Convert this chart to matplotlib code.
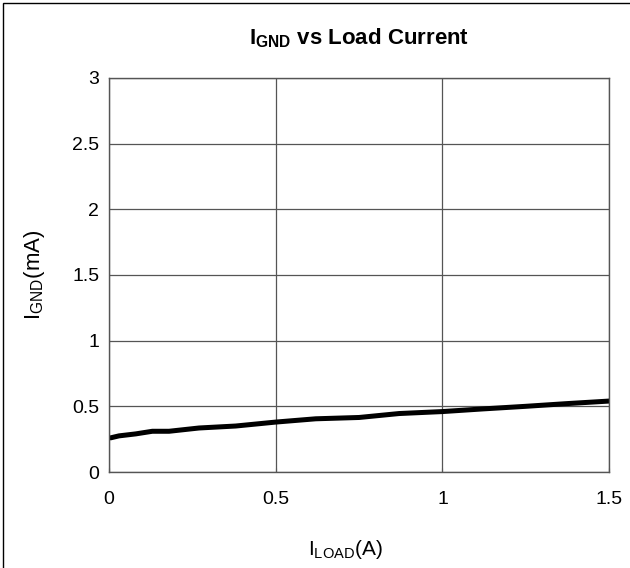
import numpy as np
import matplotlib
matplotlib.use("Agg")
import matplotlib.pyplot as plt
from matplotlib.patches import Rectangle

plt.rcParams['font.family'] = ['Liberation Sans', 'DejaVu Sans']
plt.rcParams['mathtext.fontset'] = 'custom'
plt.rcParams['mathtext.rm'] = 'Liberation Sans'
plt.rcParams['mathtext.it'] = 'Liberation Sans'
plt.rcParams['mathtext.bf'] = 'Liberation Sans:bold'

# load current (A) vs ground current (mA)
i_load = [0.005, 0.03, 0.08, 0.13, 0.18, 0.27, 0.38, 0.5, 0.62, 0.75,
          0.87, 1.0, 1.12, 1.25, 1.37, 1.5]
i_gnd = [0.26, 0.275, 0.29, 0.31, 0.31, 0.335, 0.35, 0.38, 0.405, 0.415,
         0.445, 0.46, 0.48, 0.5, 0.52, 0.54]

xticks = [0, 0.5, 1, 1.5]
xtick_labels = ["0", "0.5", "1", "1.5"]
yticks = [0, 0.5, 1, 1.5, 2, 2.5, 3]
ytick_labels = ["0", "0.5", "1", "1.5", "2", "2.5", "3"]

fig = plt.figure(figsize=(6.3, 5.68), dpi=100)
ax = fig.add_axes([0.173, 0.169, 0.794, 0.694])

ax.plot(i_load, i_gnd, color="black", lw=3.6, solid_capstyle="round")

ax.set_xlim(0, 1.5)
ax.set_ylim(0, 3)
ax.set_xticks(xticks)
ax.set_xticklabels(xtick_labels)
ax.set_yticks(yticks)
ax.set_yticklabels(ytick_labels)
ax.tick_params(labelsize=14, direction="in", length=3, color="#555555")
ax.tick_params(axis="x", pad=14)
ax.tick_params(axis="y", pad=7, length=0)
ax.grid(True, color="#555555", lw=0.9)
for s in ax.spines.values():
    s.set_color("#555555")
    s.set_linewidth(1.0)

ax.set_title(r"$\mathbf{I_{GND}}$ vs Load Current", fontsize=16, fontweight="bold", pad=24)
ax.set_xlabel(r"$\mathregular{I_{LOAD}}$(A)", fontsize=15)
ax.xaxis.set_label_coords(0.472, -0.168)
ax.set_ylabel(r"$\mathregular{I_{GND}}$(mA)", fontsize=16, labelpad=18)

# figure border
fig.patches.append(Rectangle((0.005, -0.01), 1.02, 1.005, transform=fig.transFigure,
                             fill=False, edgecolor="black", lw=1.0))

fig.savefig("out.png", dpi=100)
